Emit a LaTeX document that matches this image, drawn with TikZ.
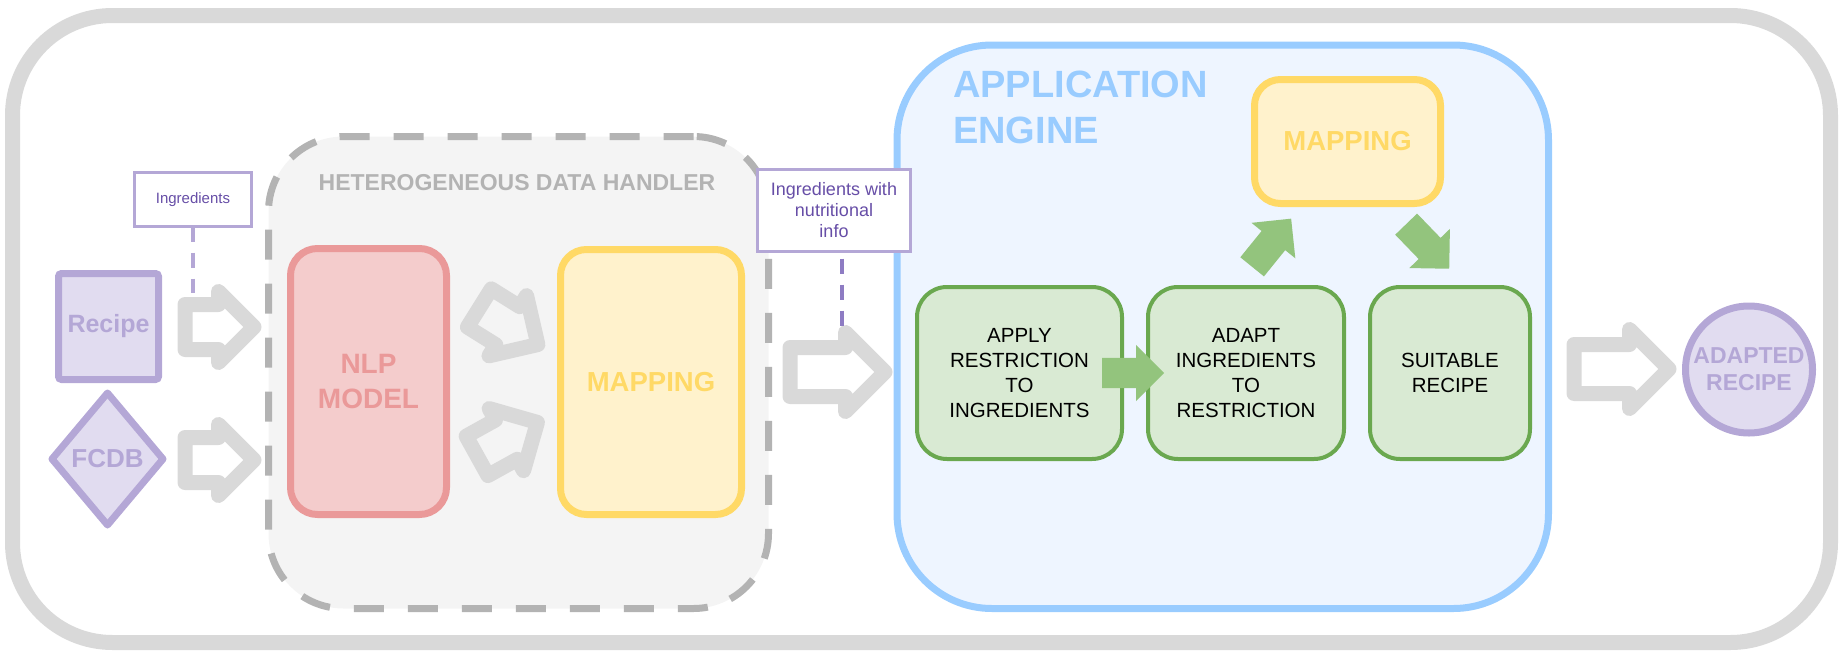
\documentclass[tikz,border=0pt]{standalone}
\usepackage{fontspec}
\setmainfont{Liberation Sans}
\usepackage{xcolor}
\definecolor{frameGray}{HTML}{D9D9D9}
\definecolor{handlerGray}{HTML}{B3B3B3}
\definecolor{handlerFill}{HTML}{F4F4F4}
\definecolor{purpleLine}{HTML}{B4A7D6}
\definecolor{purpleFill}{HTML}{E1DCF0}
\definecolor{purpleText}{HTML}{674EA7}
\definecolor{purpleDash}{HTML}{8E7CC3}
\definecolor{nlpLine}{HTML}{EA9999}
\definecolor{nlpFill}{HTML}{F4CCCC}
\definecolor{mapLine}{HTML}{FFD966}
\definecolor{mapFill}{HTML}{FFF2CC}
\definecolor{engineLine}{HTML}{99CCFF}
\definecolor{engineFill}{HTML}{EEF5FF}
\definecolor{stepLine}{HTML}{6AA84F}
\definecolor{stepFill}{HTML}{D9EAD3}
\definecolor{stepArrow}{HTML}{93C47D}
\usepackage{tikz}
\usetikzlibrary{shapes, arrows.meta, positioning, calc}
\newcommand{\fsz}[2]{\fontsize{#1}{#2}\selectfont}

\begin{document}
\begin{tikzpicture}[
        x=1pt, y=-1pt,
        outerFrame/.style={
            draw=frameGray,
            line width=15pt,
            rounded corners=100pt,
            inner sep=0pt, outer sep=0pt
        },
        handlerBox/.style={
            draw=handlerGray,
            fill=handlerFill,
            line width=7pt,
            dash pattern=on 30pt off 24pt,
            rounded corners=75pt,
            inner sep=0pt, outer sep=0pt
        },
        engineBox/.style={
            draw=engineLine,
            fill=engineFill,
            line width=7pt,
            rounded corners=95pt,
            inner sep=0pt, outer sep=0pt
        },
        inputBox/.style={
            draw=purpleLine,
            fill=purpleFill,
            line width=7pt,
            rounded corners=3pt,
            minimum width=100pt,
            minimum height=106pt,
            inner sep=0pt, outer sep=0pt,
            font=\fsz{25}{30}\bfseries,
            text=purpleLine
        },
        inputDiamond/.style={
            diamond,
            draw=purpleLine,
            fill=purpleFill,
            line width=7pt,
            line join=round,
            minimum width=111pt,
            minimum height=132pt,
            inner sep=0pt, outer sep=0pt,
            font=\fsz{26}{31}\bfseries,
            text=purpleLine
        },
        outputCircle/.style={
            circle,
            draw=purpleLine,
            fill=purpleFill,
            line width=7pt,
            minimum size=127pt,
            inner sep=0pt, outer sep=0pt,
            font=\fsz{23}{27}\bfseries,
            text=purpleLine,
            align=center
        },
        nlpBox/.style={
            draw=nlpLine,
            fill=nlpFill,
            line width=7pt,
            rounded corners=27pt,
            minimum width=156pt,
            minimum height=266pt,
            inner sep=0pt, outer sep=0pt,
            font=\fsz{28}{35}\bfseries,
            text=nlpLine,
            align=center
        },
        mapBox/.style={
            draw=mapLine,
            fill=mapFill,
            line width=7pt,
            rounded corners=26pt,
            inner sep=0pt, outer sep=0pt,
            font=\fsz{27.5}{33}\bfseries,
            text=mapLine
        },
        stepBox/.style={
            draw=stepLine,
            fill=stepFill,
            line width=4pt,
            rounded corners=30pt,
            minimum height=172pt,
            inner sep=0pt, outer sep=0pt,
            font=\fsz{20.5}{24.7},
            text=black,
            align=center
        },
        noteBox/.style={
            draw=purpleLine,
            fill=white,
            line width=3pt,
            inner sep=0pt, outer sep=0pt,
            text=purpleText,
            align=center
        },
        noteLink/.style={
            line width=4pt,
            dash pattern=on 15pt off 11pt
        },
        grayArrow/.style={
            single arrow,
            draw=frameGray,
            line width=15pt,
            line join=round,
            inner xsep=0pt,
            inner ysep=15pt,
            single arrow head extend=13pt,
            minimum height=69pt,
            anchor=tail
        },
        bigGrayArrow/.style={
            grayArrow,
            inner ysep=17pt,
            single arrow head extend=15pt,
            minimum height=95pt
        },
        stepArrowShape/.style={
            single arrow,
            fill=stepArrow,
            inner xsep=0pt,
            inner ysep=15pt,
            single arrow head extend=13pt,
            minimum height=62pt,
            anchor=tail
        }
    ]
    \useasboundingbox (0,0) rectangle (1845,656);

    % Outer frame
    \node[outerFrame, minimum width=1818pt, minimum height=627pt] (frame) at (921.5,329) {};

    % Containers
    \node[handlerBox, minimum width=500pt, minimum height=472pt] (handler) at (518.5,372.5) {};
    \node[font=\fsz{23}{27}\bfseries, text=handlerGray] (handlerTitle) at (517,183) {HETEROGENEOUS DATA HANDLER};

    \node[engineBox, minimum width=651.5pt, minimum height=563.5pt] (engine) at (1222.75,326.75) {};
    \node[anchor=north west, inner sep=0pt, align=left, font=\fsz{38}{46}\bfseries, text=engineLine] (engineTitle) at (953,71) {APPLICATION\\ENGINE};

    % Inputs
    \node[inputBox] (recipe) at (108.5,326.5) {Recipe};
    \node[inputDiamond] (fcdb) at (107.5,459) {FCDB};

    % Heterogeneous data handler
    \node[nlpBox] (nlp) at (368.5,381.5) {NLP\\MODEL};
    \node[mapBox, minimum width=181pt, minimum height=265pt] (handlerMap) at (651,382) {MAPPING};

    % Application engine
    \node[mapBox, minimum width=186pt, minimum height=124pt] (engineMap) at (1347.5,141.5) {MAPPING};
    \node[stepBox, minimum width=205pt] (apply) at (1019.5,373) {APPLY\\RESTRICTION\\TO\\INGREDIENTS};
    \node[stepBox, minimum width=196pt, right=26pt of apply] (adapt) {ADAPT\\INGREDIENTS\\TO\\RESTRICTION};
    \node[stepBox, minimum width=160pt, right=26pt of adapt] (suitable) {SUITABLE\\RECIPE};

    % Output
    \node[outputCircle] (adapted) at (1749,369.5) {ADAPTED\\RECIPE};

    % Gray flow arrows
    \node[grayArrow] (recipeArrow) at (177.5,327) {};
    \node[grayArrow] (fcdbArrow) at (177.5,460) {};
    \node[grayArrow, rotate=-32] (nlpArrowTop) at (473,304) {};
    \node[grayArrow, rotate=29] (nlpArrowBottom) at (470.5,459.5) {};
    \node[bigGrayArrow] (handlerArrow) at (782.5,372) {};
    \node[bigGrayArrow] (engineArrow) at (1566.5,369) {};

    % Green step arrows
    \node[stepArrowShape] (applyArrow) at (1102,373) {};
    \node[stepArrowShape, rotate=51] (mapUpArrow) at (1252,267) {};
    \node[stepArrowShape, rotate=-46] (mapDownArrow) at (1406,224) {};

    % Notes
    \node[noteBox, minimum width=117pt, minimum height=54pt, font=\fsz{15}{18}] (ingNote) at (193,199.5) {Ingredients};
    \node[noteBox, minimum width=153pt, minimum height=82pt, font=\fsz{18}{21}] (nutNote) at (834,210.5) {Ingredients with\\nutritional\\info};

    \coordinate (ingEnd) at (193,293);
    \coordinate (nutEnd) at (842,328);
    \draw[noteLink, purpleLine] (ingNote.south) -- (ingEnd);
    \draw[noteLink, purpleDash, shorten <=7pt] (nutNote.south -| nutEnd) -- (nutEnd);
\end{tikzpicture}
\end{document}
